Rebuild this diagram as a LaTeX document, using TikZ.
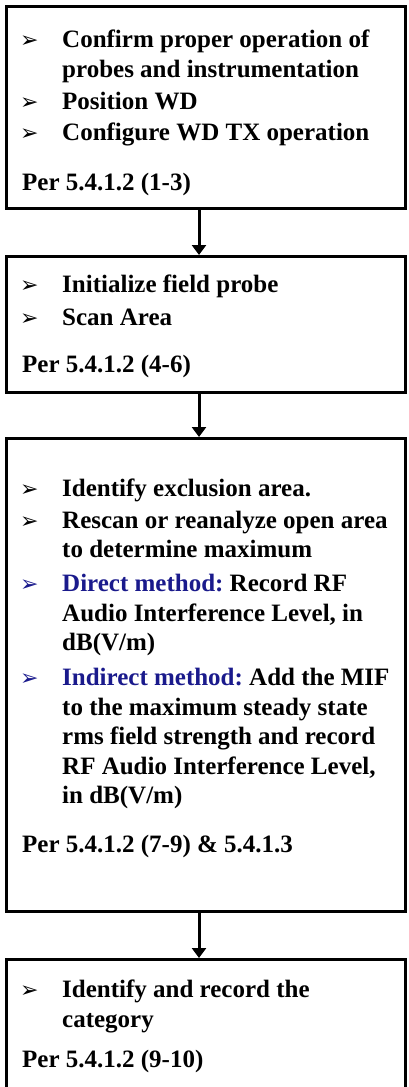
\documentclass[tikz,border=0pt]{standalone}
\usepackage{fontspec}
\setmainfont{Liberation Serif}
\newfontfamily\dingfont{DejaVu Sans}
\usetikzlibrary{arrows.meta}
\definecolor{navy}{HTML}{1A1A8C}
\tikzset{
  boxframe/.style={draw=black, line width=2.8pt, inner sep=0pt},
  txt/.style={anchor=base west, inner sep=0pt, font=\fontsize{25}{30}\selectfont\bfseries},
  bul/.style={anchor=base west, inner sep=0pt, font=\fontsize{22}{26}\selectfont\dingfont},
  flow/.style={line width=3pt, -{Triangle[width=14pt,length=10pt]}}
}
\begin{document}
\begin{tikzpicture}[x=1pt,y=-1pt]
\useasboundingbox[clip] (0,0) rectangle (409,1087);
\fill[white] (0,0) rectangle (409,1087);
% boxes
\node[boxframe, minimum width=399pt, minimum height=202pt, anchor=north west] (b1) at (5,5) {};
\node[boxframe, minimum width=399pt, minimum height=136pt, anchor=north west] (b2) at (5,255) {};
\node[boxframe, minimum width=399pt, minimum height=473pt, anchor=north west] (b3) at (5,437) {};
\node[boxframe, minimum width=399pt, minimum height=160pt, anchor=north west] (b4) at (5,958) {};
\coordinate (ax) at (199,0);
% arrows
\draw[flow] (b1.south -| ax) -- (b2.north -| ax);
\draw[flow] (b2.south -| ax) -- (b3.north -| ax);
\draw[flow] (b3.south -| ax) -- (b4.north -| ax);
% box 1
\node[bul] (p1) at (20,47) {➢};
\node[txt] (t1a) at (62,47) {Confirm proper operation of};
\node[txt] (t1b) at (62,77) {probes and instrumentation};
\node[bul] (p2) at (20,109) {➢};
\node[txt] (t1c) at (62,109) {Position WD};
\node[bul] (p3) at (20,140) {➢};
\node[txt] (t1d) at (62,140) {Configure WD TX operation};
\node[txt] (r1) at (22,190) {Per 5.4.1.2 (1-3)};
% box 2
\node[bul] (p4) at (20,292) {➢};
\node[txt] (t2a) at (62,292) {Initialize field probe};
\node[bul] (p5) at (20,325) {➢};
\node[txt] (t2b) at (62,325) {Scan Area};
\node[txt] (r2) at (22,372) {Per 5.4.1.2 (4-6)};
% box 3
\node[bul] (p6) at (20,496) {➢};
\node[txt] (t3a) at (62,496) {Identify exclusion area.};
\node[bul] (p7) at (20,528) {➢};
\node[txt] (t3b) at (62,528) {Rescan or reanalyze open area};
\node[txt] (t3c) at (62,557) {to determine maximum};
\node[bul, text=navy] (p8) at (20,591) {➢};
\node[txt] (t3d) at (62,591) {\textcolor{navy}{Direct method:}~Record RF};
\node[txt] (t3e) at (62,621) {Audio Interference Level, in};
\node[txt] (t3f) at (62,650) {dB(V/m)};
\node[bul, text=navy] (p9) at (20,685) {➢};
\node[txt] (t3g) at (62,685) {\textcolor{navy}{Indirect method:}~Add the MIF};
\node[txt] (t3h) at (62,715) {to the maximum steady state};
\node[txt] (t3i) at (62,744) {rms field strength and record};
\node[txt] (t3j) at (62,774) {RF Audio Interference Level,};
\node[txt] (t3k) at (62,803) {in dB(V/m)};
\node[txt] (r3) at (22,852) {Per 5.4.1.2 (7-9) \& 5.4.1.3};
% box 4
\node[bul] (p10) at (20,997) {➢};
\node[txt] (t4a) at (62,997) {Identify and record the};
\node[txt] (t4b) at (62,1027) {category};
\node[txt] (r4) at (22,1067) {Per 5.4.1.2 (9-10)};
\end{tikzpicture}
\end{document}
